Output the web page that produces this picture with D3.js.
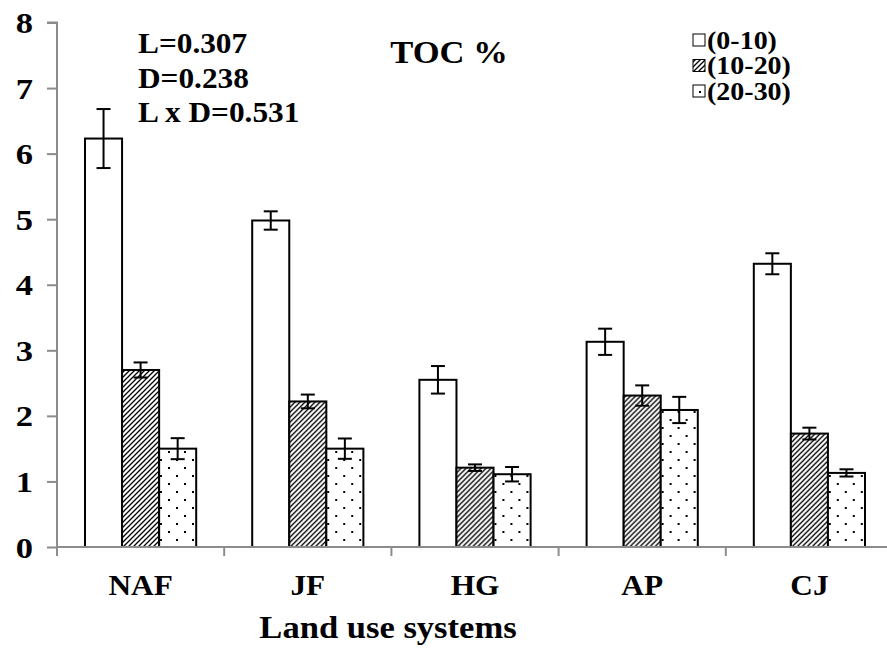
<!DOCTYPE html>
<html>
<head>
<meta charset="utf-8">
<script src="https://cdn.jsdelivr.net/npm/d3@7"></script>
<style>
  html, body { margin: 0; padding: 0; background: #fff; }
  svg text { font-family: "Liberation Serif", "Times New Roman", serif; font-weight: bold; fill: #000; }
</style>
</head>
<body>
<svg id="chart" width="887" height="651"></svg>
<script>
// Land use systems on the x axis
const categories = ["NAF", "JF", "HG", "AP", "CJ"];
// Soil depth classes (cm)
const depths = ["(0-10)", "(10-20)", "(20-30)"];
// Mean TOC % per land use for each depth
const toc0_10  = [6.23, 4.98, 2.55, 3.13, 4.32];
const toc10_20 = [2.70, 2.22, 1.21, 2.31, 1.73];
const toc20_30 = [1.50, 1.50, 1.11, 2.09, 1.13];
// Error bar half-lengths
const err0_10  = [0.45, 0.14, 0.21, 0.20, 0.16];
const err10_20 = [0.115, 0.105, 0.05, 0.155, 0.09];
const err20_30 = [0.16, 0.155, 0.11, 0.20, 0.055];
const yTicks = [0, 1, 2, 3, 4, 5, 6, 7, 8];
const statsLines = ["L=0.307", "D=0.238", "L x D=0.531"];

const seriesValues = [toc0_10, toc10_20, toc20_30];
const seriesErrors = [err0_10, err10_20, err20_30];
const fills = ["#fff", "url(#hatch)", "url(#dots)"];

const svg = d3.select("#chart");

// Fill patterns
const defs = svg.append("defs");
const hatch = defs.append("pattern").attr("id", "hatch")
  .attr("patternUnits", "userSpaceOnUse").attr("width", 5).attr("height", 5);
hatch.append("rect").attr("width", 5).attr("height", 5).attr("fill", "#fff");
hatch.append("path").attr("d", "M-1,1 l2,-2 M0,5 l5,-5 M4,6 l2,-2")
  .attr("stroke", "#000").attr("stroke-width", 1.3);
const dots = defs.append("pattern").attr("id", "dots")
  .attr("patternUnits", "userSpaceOnUse").attr("width", 16).attr("height", 16);
dots.append("rect").attr("width", 16).attr("height", 16).attr("fill", "#fff");
dots.append("rect").attr("x", 3).attr("y", 3).attr("width", 2).attr("height", 2).attr("fill", "#000");
dots.append("rect").attr("x", 11).attr("y", 11).attr("width", 2).attr("height", 2).attr("fill", "#000");

const x0 = d3.scaleBand().domain(categories).range([57, 893])
  .paddingInner(0.335).paddingOuter(0.1675);
const x1 = d3.scaleBand().domain(d3.range(depths.length)).range([0, x0.bandwidth()]);
const y = d3.scaleLinear().domain([0, 8]).range([547, 22.5]);

const axisColor = "#8c8c8c";
const sx = 1.08; // horizontal stretch of the lettering

function stretchedText(g, xPos, yPos, txt, size, anchor, stretch) {
  return g.append("text")
    .attr("transform", `translate(${xPos},${yPos}) scale(${stretch || sx},1)`)
    .attr("text-anchor", anchor || "start")
    .attr("font-size", size)
    .text(txt);
}

// Bars
const groups = svg.append("g").selectAll("g").data(categories).join("g")
  .attr("transform", d => `translate(${x0(d)},0)`);

seriesValues.forEach((vals, s) => {
  groups.append("rect")
    .attr("x", x1(s))
    .attr("width", x1.bandwidth())
    .attr("y", (d, i) => y(vals[i]))
    .attr("height", (d, i) => y(0) - y(vals[i]))
    .attr("fill", fills[s])
    .attr("stroke", "#000")
    .attr("stroke-width", 2);
});

// Error bars
seriesValues.forEach((vals, s) => {
  const errs = seriesErrors[s];
  const cx = x1(s) + x1.bandwidth() / 2;
  const capW = 7;
  const eb = groups.append("g").attr("stroke", "#000").attr("stroke-width", 2);
  eb.append("line").attr("x1", cx).attr("x2", cx)
    .attr("y1", (d, i) => y(vals[i] + errs[i])).attr("y2", (d, i) => y(vals[i] - errs[i]));
  eb.append("line").attr("x1", cx - capW).attr("x2", cx + capW)
    .attr("y1", (d, i) => y(vals[i] + errs[i])).attr("y2", (d, i) => y(vals[i] + errs[i]));
  eb.append("line").attr("x1", cx - capW).attr("x2", cx + capW)
    .attr("y1", (d, i) => y(vals[i] - errs[i])).attr("y2", (d, i) => y(vals[i] - errs[i]));
});

// Y axis
const yAxis = svg.append("g").attr("transform", "translate(57,0)")
  .call(d3.axisLeft(y).tickValues(yTicks).tickSize(10).tickFormat(d3.format("d")));
yAxis.select(".domain").attr("stroke", axisColor).attr("stroke-width", 2).attr("d", `M-10,${y(8)}H0V${y(0)}`);
yAxis.selectAll(".tick line").attr("stroke", axisColor).attr("stroke-width", 2);
yAxis.selectAll(".tick text").remove();
yAxis.selectAll(".tick").each(function(d) {
  stretchedText(d3.select(this), -24, 10, String(d), 30, "end", 1.15);
});

// X axis with ticks at category boundaries
const xAxisG = svg.append("g").attr("transform", `translate(0,${y(0)})`);
xAxisG.append("line").attr("x1", 57).attr("x2", 887).attr("stroke", axisColor).attr("stroke-width", 2);
const bounds = categories.map(c => x0(c) - x0.step() * x0.paddingOuter());
xAxisG.selectAll(".bt").data(bounds).join("line").attr("class", "bt")
  .attr("x1", d => d).attr("x2", d => d).attr("y1", 0).attr("y2", 9)
  .attr("stroke", axisColor).attr("stroke-width", 2);
categories.forEach(c => {
  stretchedText(xAxisG, x0(c) + x0.bandwidth() / 2, 48, c, 29, "middle");
});

// Axis title
stretchedText(svg, 388, 638, "Land use systems", 32, "middle");

// Chart title
stretchedText(svg, 449, 63, "TOC %", 32, "middle");

// Statistics annotation
statsLines.forEach((t, i) => stretchedText(svg, 138, 53 + i * 34.5, t, 29, "start"));

// Legend
const legend = svg.append("g");
depths.forEach((d, i) => {
  const cy = 40 + i * 25.5;
  legend.append("rect").attr("x", 693).attr("y", cy - 6).attr("width", 12).attr("height", 12)
    .attr("fill", fills[i]).attr("stroke", "#000").attr("stroke-width", 1);
  stretchedText(legend, 707, cy + 8.5, d, 25, "start", 1.12);
});
</script>
</body>
</html>
